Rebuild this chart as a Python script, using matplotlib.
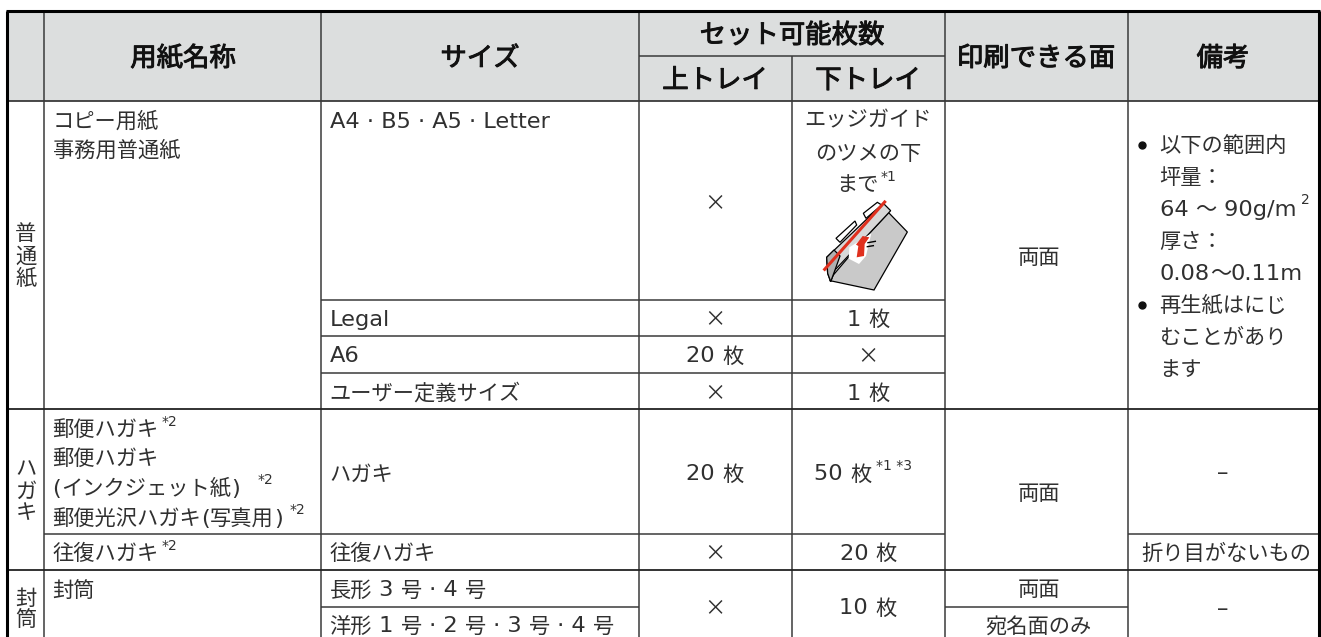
import matplotlib
matplotlib.use('Agg')
import matplotlib.pyplot as plt
import matplotlib.patheffects as pe
from matplotlib.patches import Polygon, Rectangle

plt.rcParams['font.family'] = ['Noto Sans CJK JP', 'DejaVu Sans']

# table texts
col_headers = ['用紙名称', 'サイズ', '印刷できる面', '備考']
span_header = 'セット可能枚数'
sub_headers = ['上トレイ', '下トレイ']
groups = ['普通紙', 'ハガキ', '封筒']
paper_names = ['コピー用紙', '事務用普通紙', '郵便ハガキ', '郵便ハガキ', '(インクジェット紙)',
               '郵便光沢ハガキ(写真用)', '往復ハガキ', '封筒']
paper_notes = ['*2', '*2', '*2', '*2']
sizes = ['A4 · B5 · A5 · Letter', 'Legal', 'A6', 'ユーザー定義サイズ', 'ハガキ', '往復ハガキ',
         '長形 3 号 · 4 号', '洋形 1 号 · 2 号 · 3 号 · 4 号']
upper_tray = ['×', '×', '20 枚', '×', '20 枚', '×', '×']
lower_tray = ['1 枚', '×', '1 枚', '20 枚', '10 枚']
edge_text = ['エッジガイド', 'のツメの下', 'まで']
postcard_lower = '50 枚'
sides = ['両面', '両面', '両面', '宛名面のみ']
remarks = ['以下の範囲内', '坪量：', '64 ～ 90g/m', '厚さ：', '0.08～0.11m',
           '再生紙はにじ', 'むことがあり', 'ます']
other_remarks = ['–', '折り目がないもの', '–']

# grid lines in pixels
xs = [6.5, 44, 321, 638.5, 792, 945, 1128, 1319]
ys = [11, 55.7, 101, 299.7, 336.3, 372.7, 409.3, 533.7, 570.3, 606.7, 637]

BODY = 15.3
LATIN = 16.2
HEAD = 19
INK = '#303030'
GRID = '#3a3a3a'

fig = plt.figure(figsize=(13.21, 6.37), dpi=100)
ax = fig.add_axes([0, 0, 1, 1])
ax.set_xlim(0, 1321)
ax.set_ylim(637, 0)
ax.axis('off')
renderer = fig.canvas.get_renderer()


def runs(s):
    # split into latin and japanese pieces, the picture has wider latin letters
    parts = []
    for ch in s:
        latin = ord(ch) < 0xd7
        if parts and parts[-1][1] == latin:
            parts[-1][0] += ch
        else:
            parts.append([ch, latin])
    return parts


def text_width(s, family, size):
    t = ax.text(0, 0, s + '|', family=family, fontsize=size)
    w = t.get_window_extent(renderer).width
    t.set_text('|')
    w -= t.get_window_extent(renderer).width
    t.remove()
    return w


def put(x, y, s, ha='left'):
    parts = runs(s)
    specs = [('DejaVu Sans', LATIN) if latin else ('Noto Sans CJK JP', BODY) for _, latin in parts]
    widths = [text_width(p[0], f, sz) for p, (f, sz) in zip(parts, specs)]
    if ha == 'center':
        x -= sum(widths) / 2
    for p, (f, sz), w in zip(parts, specs, widths):
        ax.text(x, y + 7.5, p[0], ha='left', va='baseline', family=f, fontsize=sz, color=INK)
        x += w
    return x


def head(x, y, s):
    ax.text(x, y + 10, s, ha='center', va='baseline', fontsize=HEAD, color='#111111',
            path_effects=[pe.withStroke(linewidth=0.7, foreground='#111111')])


def sup(x, y, s):
    ax.text(x, y, s, ha='left', va='center', family='DejaVu Sans', fontsize=10, color=INK)


# header background
ax.add_patch(Rectangle((xs[0], ys[0]), xs[-1] - xs[0], ys[2] - ys[0], color='#dcdede', lw=0))

# vertical grid
ax.vlines(xs[1:4], ys[0], ys[-1], color=GRID, lw=1.1)
ax.vlines(xs[4], ys[1], ys[-1], color=GRID, lw=1.1)
ax.vlines(xs[5:7], ys[0], ys[-1], color=GRID, lw=1.1)

# horizontal grid
ax.hlines(ys[1], xs[3], xs[5], color=GRID, lw=1.1)
ax.hlines(ys[2], xs[0], xs[-1], color=GRID, lw=1.3)
ax.hlines(ys[3:6], xs[2], xs[5], color=GRID, lw=1.1)
ax.hlines(ys[6], xs[0], xs[-1], color='#222222', lw=1.3)
ax.hlines(ys[7], xs[1], xs[5], color=GRID, lw=1.1)
ax.hlines(ys[7], xs[6], xs[7], color=GRID, lw=1.1)
ax.hlines(ys[8], xs[0], xs[-1], color='#222222', lw=1.3)
ax.hlines(ys[9], xs[2], xs[3], color=GRID, lw=1.1)
ax.hlines(ys[9], xs[5], xs[6], color=GRID, lw=1.1)

# outer frame
ax.hlines(ys[0], xs[0] - 1, xs[-1] + 1, color='black', lw=2.2)
ax.vlines([xs[0], xs[-1]], ys[0], ys[-1], color='black', lw=2.2)

# header
head(183, 56, col_headers[0])
head(480, 56, col_headers[1])
head(1036, 56, col_headers[2])
head(1223, 56, col_headers[3])
head(792, 33, span_header)
head(715, 78, sub_headers[0])
head(868, 78, sub_headers[1])

# group labels, stacked one character at a time
for label, y0, step in zip(groups, [233, 468, 597], [22, 22, 21]):
    for i, ch in enumerate(label):
        put(26, y0 + i * step, ch, 'center')

# paper names
for y, s in zip([120, 149, 428, 457, 487, 517, 552, 589], paper_names):
    put(52.5, y, s)
for x, y, s in zip([162, 257.5, 290, 162], [422, 480, 510, 546], paper_notes):
    sup(x, y, s)

# sizes
for y, s in zip([120, 318, 355, 392, 473, 552, 589, 625], sizes):
    put(329.5, y, s)

# tray columns
for y, s in zip([202, 318, 355, 392, 473, 552, 607], upper_tray):
    put(715, y, s, 'center')
for y, s in zip([318, 355, 392, 552, 607], lower_tray):
    put(868, y, s, 'center')
put(868, 119, edge_text[0], 'center')
put(868, 152, edge_text[1], 'center')
put(836, 184, edge_text[2])
sup(881, 177, '*1')
put(814.5, 473, postcard_lower)
sup(876.5, 466, '*1 *3')

# printable side
for y, s in zip([257, 492, 589, 625], sides):
    put(1039, y, s, 'center')

# remarks
for y, s in zip([144, 176, 208, 240, 272, 304, 336, 368], remarks):
    put(1159.5, y, s)
sup(1301.5, 200, '2')
ax.plot([1141.7, 1141.7], [145, 305], ls='none', marker='o', ms=5, color='#111111')
for (x, y), s in zip([(1223, 472), (1226, 552), (1223, 607)], other_remarks):
    put(x, y, s, 'center')


# small tray drawing
def pts(seq):
    return [(790 + a / 3, 170 + b / 3) for a, b in seq]


tray = [(120, 332), (252, 360), (352, 186), (296, 128), (215, 215), (130, 315)]
guide = [(110, 262), (280, 100), (302, 122), (135, 300), (122, 335), (113, 310)]
guide_end = [(110, 262), (132, 240), (150, 258), (135, 300), (122, 335), (113, 310)]
handle1 = [(138, 205), (195, 153), (200, 165), (150, 217)]
handle2 = [(220, 130), (262, 97), (275, 105), (228, 145)]
arrow_bg = [(178, 232), (244, 190), (228, 258), (207, 282), (176, 266)]
arrow = [(218, 198), (238, 202), (224, 222), (222, 258), (200, 262), (205, 228), (198, 224)]
red_line = [(104, 298), (284, 96)]
dash1 = [(234, 218), (256, 214)]
dash2 = [(232, 230), (250, 227)]

ax.add_patch(Polygon(pts(tray), fc='#c9c9c9', ec='black', lw=0.9))
ax.add_patch(Polygon(pts(guide), fc='#d8d8d8', ec='black', lw=0.9))
ax.add_patch(Polygon(pts(guide_end), fc='#b0b0b0', ec='black', lw=0.9))
ax.add_patch(Polygon(pts(handle1), fc='white', ec='black', lw=0.9))
ax.add_patch(Polygon(pts(handle2), fc='white', ec='black', lw=0.9))
ax.add_patch(Polygon(pts(arrow_bg), fc='white', ec='none'))
ax.add_patch(Polygon(pts(arrow), fc='#e0301e', ec='none'))
for seg in (dash1, dash2):
    p = pts(seg)
    ax.plot([p[0][0], p[1][0]], [p[0][1], p[1][1]], color='black', lw=1)
line_pts = pts(red_line)
ax.plot([line_pts[0][0], line_pts[1][0]], [line_pts[0][1], line_pts[1][1]], color='#e0301e', lw=2.2)

fig.savefig('out.png', dpi=100)
